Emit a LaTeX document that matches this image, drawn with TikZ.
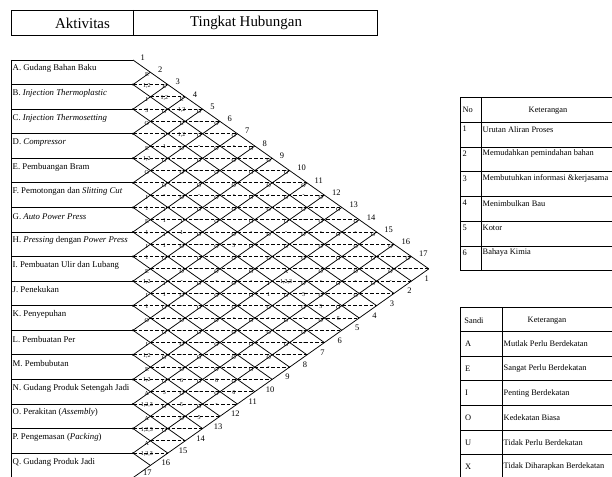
\documentclass[tikz,border=0pt]{standalone}
\usepackage{fontspec}
\setmainfont{Liberation Serif}
\usetikzlibrary{positioning}

% one row of the chart: #1 = row number, #2 = list of letter/reason for the pairs to its right
\newcommand{\arcrow}[2]{%
  \foreach \arcL/\arcR [count=\col] in {#2} {
    \node[code] (u-#1-\col) at ({129.5+17.4*\col},{50+12.285*(2*#1+\col-1)}) {\arcL};
    \node[code] (l-#1-\col) at ({129.5+17.4*\col},{61+12.285*(2*#1+\col-1)}) {\arcR};
  }%
}

\begin{document}
\begin{tikzpicture}[
    x = 1bp, y = -1bp, % pixel grid, y downwards
    grid line/.style = {line width=0.75bp},
    dash line/.style = {line width=0.75bp, dash pattern=on 3.5bp off 2bp},
    box line/.style = {line width=0.8bp},
    tab line/.style = {line width=1bp},
    head/.style = {inner sep=0pt, font=\rmfamily\fontsize{15}{17}\selectfont},
    row label/.style = {anchor=west, inner sep=0pt, font=\rmfamily\fontsize{8.8}{10}\selectfont},
    num/.style = {inner sep=0pt, font=\rmfamily\fontsize{8.5}{10}\selectfont},
    code/.style = {inner sep=0pt, font=\rmfamily\fontsize{6}{6}\selectfont},
    tab text/.style = {anchor=west, inner sep=0pt, font=\rmfamily\fontsize{8.4}{9}\selectfont}
  ]

  \useasboundingbox (0,0) rectangle (612,477);

  % header
  \draw[box line] (11,10) rectangle (377,35);
  \draw[box line] (133,10) -- (133,35);
  \node[head] (akt) at (82.5,23) {Aktivitas};
  \node[head] (tingkat) at (246,23) {Tingkat Hubungan};

  % activity boxes
  \draw[box line] (11,60) -- (11,478);
  \foreach \k in {0,...,17} {
    \coordinate (p\k) at (133,{60+24.57*\k});
    \coordinate (t\k) at ({133+17.4*\k},{60+12.285*\k});
    \coordinate (b\k) at ({133+17.4*(17-\k)},{60+12.285*(17+\k)});
    \draw[box line] (11,{60+24.57*\k}) -- (p\k);
  }

  \foreach \name [count=\i] in {
      A. Gudang Bahan Baku,
      B. \textit{Injection Thermoplastic},
      C. \textit{Injection Thermosetting},
      D. \textit{Compressor},
      E. Pembuangan Bram,
      F. Pemotongan dan \textit{Slitting Cut},
      G. \textit{Auto Power Press},
      H. \textit{Pressing} dengan \textit{Power Press},
      I. Pembuatan Ulir dan Lubang,
      J. Penekukan,
      K. Penyepuhan,
      L. Pembuatan Per,
      M. Pembubutan,
      N. Gudang Produk Setengah Jadi,
      O. Perakitan (\textit{Assembly}),
      P. Pengemasan (\textit{Packing}),
      Q. Gudang Produk Jadi}
    \node[row label] (act\i) at (12.5,{60+24.57*(\i-0.5)-3.5}) {\name};

  % diamond grid
  \foreach \s in {2,...,32} {
    \pgfmathtruncatemacro\dlo{isodd(\s) ? 2 : 1}
    \pgfmathtruncatemacro\dhi{min(\s-1,33-\s)}
    \draw[dash line] ({133+17.4*(\dlo-1)},{60+12.285*\s}) -- ({133+17.4*(\dhi+1)},{60+12.285*\s});
  }
  \foreach \k in {0,...,16} \draw[grid line] (p\k) -- (b\k);
  \foreach \k in {1,...,17} \draw[grid line] (p\k) -- (t\k);
  \foreach \k in {1,...,16} \fill (p\k) circle (1.1bp);

  \foreach \k [evaluate=\k as \m using int(\k-1)] in {1,...,16} {
    \node[num, anchor=west] (top\k) at ([xshift=7.5bp, yshift=2.5bp] t\m) {\k};
    \node[num] (bot\k) at ([xshift=-2bp, yshift=-10bp] b\m) {\k};
  }
  \node[num, anchor=west] (top17) at ([xshift=7.5bp, yshift=2.5bp] t16) {17};
  \node[num, anchor=south] (bot17) at ([xshift=-3bp] b16 |- 0,475.5) {17};

  % relationship codes
  \arcrow{1}{E/{1,2},E/{1,2},E/{1,2},O/-,O/-,O/-,O/-,O/-,O/-,O/-,O/-,O/-,O/-,O/-,O/-,O/-}
  \arcrow{2}{I/3,O/-,E/{1,2},O/-,O/-,O/-,O/-,O/-,O/-,O/-,O/-,O/-,O/-,O/-,O/-}
  \arcrow{3}{O/-,I/1,O/-,O/-,O/-,O/-,O/-,O/-,O/-,O/-,O/-,O/-,O/-,O/-}
  \arcrow{4}{E/{1,2},O/-,O/-,O/-,O/-,O/-,O/-,O/-,O/-,O/-,O/-,O/-,O/-}
  \arcrow{5}{O/-,O/-,O/-,O/-,O/-,O/5,O/-,O/-,A/{1,2,3},O/5,O/5,O/5}
  \arcrow{6}{I/1,I/1,I/1,O/-,O/-,O/-,O/-,I/1,O/-,O/-,O/-}
  \arcrow{7}{E/1,I/1,O/-,O/-,O/-,O/-,O/-,O/-,O/-,O/-}
  \arcrow{8}{I/1,O/-,O/-,O/-,O/-,O/-,O/-,O/-,O/-}
  \arcrow{9}{E/{1,2},I/1,O/-,O/-,O/-,O/-,O/-,O/-}
  \arcrow{10}{I/1,O/-,O/-,O/-,O/-,O/-,O/-}
  \arcrow{11}{O/-,O/-,O/-,O/-,O/6,O/6}
  \arcrow{12}{I/{1,2},O/-,O/6,O/-,O/-}
  \arcrow{13}{E/{1,2},O/5,O/5,O/5}
  \arcrow{14}{A/{1,2,3},O/-,O/-}
  \arcrow{15}{A/{1,2,3},O/-}
  \arcrow{16}{A/{1,2,3}}

  % table of reasons
  \foreach \y in {98,122.67,147.33,172,196.67,221.33,246,270.67}
    \draw[tab line] (460,\y) -- (616,\y);
  \draw[tab line] (460,98) -- (460,270.67);
  \draw[tab line] (481,98) -- (481,270.67);
  \node[tab text] (no) at (462.5,110.3) {No};
  \node[tab text, anchor=center] (ket1) at (548,110.3) {Keterangan};
  \foreach \txt [count=\i] in {Urutan Aliran Proses, Memudahkan pemindahan bahan,
      Membutuhkan informasi \&kerjasama, Menimbulkan Bau, Kotor, Bahaya Kimia} {
    \node[tab text] (no\i) at (462.5,{98+24.67*\i+6.5}) {\i};
    \node[tab text] (why\i) at (482.5,{98+24.67*\i+6.5}) {\txt};
  }

  % table of codes
  \foreach \y in {307,331.6,356.2,380.8,405.4,430,454.6,479.2}
    \draw[tab line] (460,\y) -- (616,\y);
  \draw[tab line] (460,307) -- (460,479.2);
  \draw[tab line] (502,307) -- (502,479.2);
  \node[tab text, anchor=center] (sandi) at (474,320.5) {Sandi};
  \node[tab text, anchor=center] (ket2) at (547,320.5) {Keterangan};
  \foreach \c/\txt [count=\i] in {A/Mutlak Perlu Berdekatan, E/Sangat Perlu Berdekatan,
      I/Penting Berdekatan, O/Kedekatan Biasa, U/Tidak Perlu Berdekatan,
      X/Tidak Diharapkan Berdekatan} {
    \node[tab text] (code\i) at (465,{307+24.6*\i+12.3}) {\c};
    \node[tab text] (mean\i) at (503.5,{307+24.6*\i+12.3}) {\txt};
  }
\end{tikzpicture}
\end{document}
